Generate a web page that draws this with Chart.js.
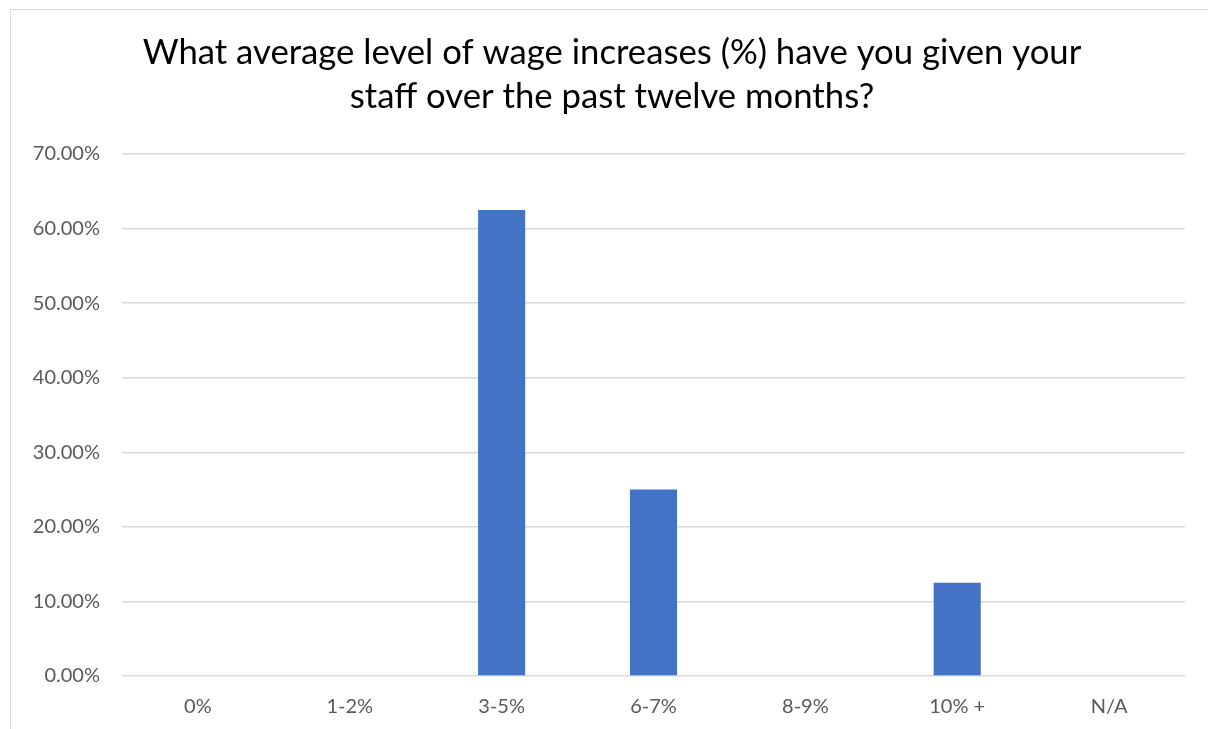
<!DOCTYPE html>
<html lang="en">
<head>
    <meta charset="UTF-8">
    <title>Wage Increases</title>
    <script src="https://cdn.jsdelivr.net/npm/chart.js"></script>
    <style>
        html, body { margin: 0; padding: 0; background: #fff; overflow: hidden; }
        #frame {
            position: absolute; left: 10px; top: 9px;
            width: 1240px; height: 760px;
            border: 1px solid #d9d9d9; background: #fff;
        }
        canvas { display: block; }
    </style>
</head>
<body>
    <div id="frame">
        <canvas id="wageChart" width="1197" height="719"></canvas>
    </div>

    <script>
        // survey answers and share of respondents (%)
        const categories = ['0%', '1-2%', '3-5%', '6-7%', '8-9%', '10% +', 'N/A'];
        const shares = [0, 0, 62.5, 25, 0, 12.5, 0];
        const titleLines = [
            'What average level of wage increases (%) have you given your',
            'staff over the past twelve months?'
        ];

        // heading centred on the whole frame rather than on the plot box
        const heading = {
            id: 'heading',
            afterDraw(chart) {
                const c = chart.ctx;
                c.save();
                c.font = '34.7px Lato';
                c.fillStyle = '#000';
                c.textAlign = 'center';
                c.textBaseline = 'middle';
                titleLines.forEach((line, i) => c.fillText(line, 601, 43 + i * 44));
                c.restore();
            }
        };

        const ctx = document.getElementById('wageChart').getContext('2d');
        new Chart(ctx, {
            type: 'bar',
            data: {
                labels: categories,
                datasets: [{
                    label: 'Share',
                    data: shares,
                    backgroundColor: '#4472C4',
                    categoryPercentage: 1,
                    barPercentage: 0.31
                }]
            },
            options: {
                responsive: false,
                animation: false,
                layout: { padding: { left: 0, right: 23, top: 144, bottom: 0 } },
                plugins: {
                    legend: { display: false },
                    tooltip: { enabled: false },
                    title: { display: false }
                },
                scales: {
                    x: {
                        grid: { display: false, drawTicks: false },
                        border: { display: false },
                        ticks: { color: '#595959', font: { family: 'Lato', size: 20 }, padding: 19 },
                        afterFit: s => { s.height = 53; }
                    },
                    y: {
                        min: 0,
                        max: 70,
                        grid: { color: '#d9d9d9', lineWidth: 1.5, drawTicks: false },
                        border: { display: false },
                        ticks: {
                            stepSize: 10,
                            color: '#595959',
                            font: { family: 'Lato', size: 20 },
                            padding: 22,
                            callback: v => v.toFixed(2) + '%'
                        },
                        afterFit: s => { s.width = 111; }
                    }
                }
            },
            plugins: [heading]
        });
    </script>
</body>
</html>
